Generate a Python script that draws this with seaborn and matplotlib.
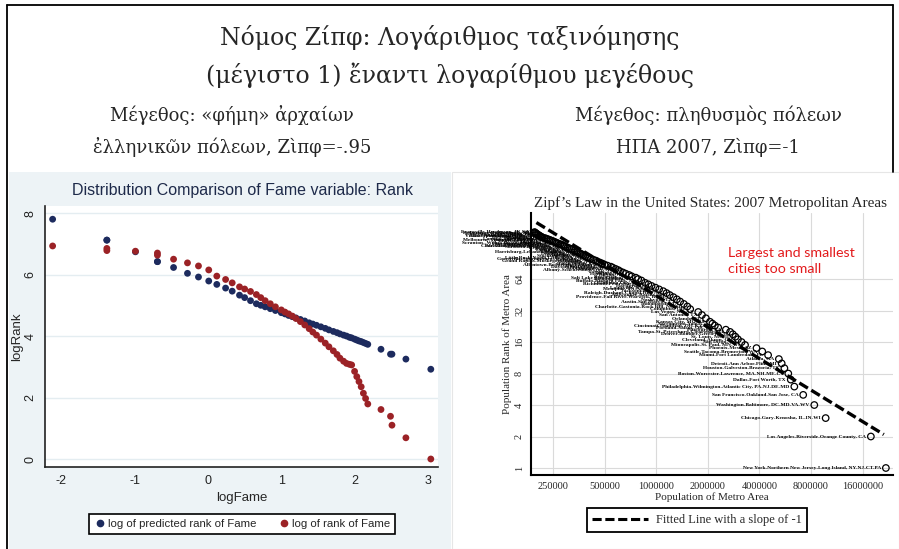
import numpy as np
import pandas as pd
import seaborn as sns
import matplotlib.pyplot as plt
from matplotlib.patches import Rectangle
from matplotlib.lines import Line2D

# ---- left panel: fame of ancient greek cities ----
log_fame = [-2.12, -1.38, -1.38, -0.99, -0.69, -0.69, -0.47, -0.28, -0.13, 0.01,
            0.12, 0.24, 0.33, 0.43, 0.50, 0.58, 0.66, 0.72, 0.78, 0.85,
            0.92, 1.00, 1.05, 1.10, 1.15, 1.20, 1.26, 1.32, 1.38, 1.43,
            1.48, 1.54, 1.60, 1.65, 1.71, 1.76, 1.80, 1.85, 1.89, 1.93,
            1.96, 2.00, 2.03, 2.06, 2.09, 2.12, 2.15, 2.18, 2.36, 2.49,
            2.51, 2.70, 3.04]
log_pred_rank = [7.80, 7.12, 7.12, 6.74, 6.42, 6.42, 6.23, 6.04, 5.92, 5.79,
                 5.68, 5.56, 5.46, 5.33, 5.25, 5.15, 5.05, 5.00, 4.95, 4.89,
                 4.83, 4.76, 4.72, 4.67, 4.63, 4.59, 4.54, 4.49, 4.43, 4.39,
                 4.35, 4.30, 4.25, 4.20, 4.15, 4.11, 4.07, 4.03, 4.00, 3.96,
                 3.94, 3.90, 3.87, 3.84, 3.82, 3.79, 3.76, 3.73, 3.57, 3.41,
                 3.41, 3.25, 2.92]
log_rank = [6.93, 6.85, 6.78, 6.76, 6.70, 6.63, 6.50, 6.38, 6.28, 6.15,
            5.95, 5.84, 5.73, 5.60, 5.53, 5.45, 5.35, 5.25, 5.15, 5.05,
            4.95, 4.85, 4.78, 4.72, 4.65, 4.57, 4.47, 4.36, 4.24, 4.13,
            4.03, 3.90, 3.77, 3.65, 3.52, 3.40, 3.28, 3.18, 3.11, 3.08,
            3.06, 2.85, 2.68, 2.52, 2.35, 2.14, 1.97, 1.79, 1.61, 1.39,
            1.10, 0.69, 0.00]
series_labels = ["log of predicted rank of Fame", "log of rank of Fame"]

# ---- right panel: US metro areas 2007 ----
metro_rank = list(range(1, 26)) + list(range(27, 60, 2)) + list(range(62, 181, 2))
metro_pop_k = [21900, 17900, 9750, 8370, 7210, 6400, 6100, 5900, 5600, 5400,
               5200, 4500, 4160, 3850, 3300, 3150, 3000, 2900, 2800, 2700,
               2550, 2300, 2200, 2130, 2060,
               1950, 1850, 1760, 1580, 1520, 1450, 1380, 1320, 1260, 1200,
               1150, 1100, 1040, 990, 940, 900, 860,
               820, 785, 760, 720, 695, 665, 640, 615, 600, 580,
               560, 545, 520, 500, 485, 470, 455, 445, 430, 415,
               405, 395, 387, 378, 370, 362, 355, 348, 341, 334,
               327, 320, 312, 304, 297, 292, 287, 282, 276, 268,
               263, 258, 253, 248, 243, 238, 233, 228, 223, 217,
               214, 211, 209, 206, 204, 202, 200, 198, 196, 195]
metro_names = [
    "New York-Northern New Jersey-Long Island, NY-NJ-CT-PA",
    "Los Angeles-Riverside-Orange County, CA",
    "Chicago-Gary-Kenosha, IL-IN-WI",
    "Washington-Baltimore, DC-MD-VA-WV",
    "San Francisco-Oakland-San Jose, CA",
    "Philadelphia-Wilmington-Atlantic City, PA-NJ-DE-MD",
    "Dallas-Fort Worth, TX",
    "Boston-Worcester-Lawrence, MA-NH-ME-CT",
    "Houston-Galveston-Brazoria, TX",
    "Detroit-Ann Arbor-Flint, MI",
    "Atlanta, GA", "Miami-Fort Lauderdale, FL", "Seattle-Tacoma-Bremerton, WA",
    "Phoenix-Mesa, AZ", "Minneapolis-St. Paul, MN-WI", "San Diego, CA",
    "Cleveland-Akron, OH", "St. Louis, MO-IL", "Denver-Boulder-Greeley, CO",
    "Tampa-St. Petersburg-Clearwater, FL", "Pittsburgh, PA", "Portland-Salem, OR-WA",
    "Cincinnati-Hamilton, OH-KY-IN", "Sacramento-Yolo, CA", "Kansas City, MO-KS",
    "Orlando, FL", "San Antonio, TX", "Las Vegas, NV-AZ", "Columbus, OH",
    "Charlotte-Gastonia-Rock Hill, NC-SC", "Indianapolis, IN", "Austin-San Marcos, TX",
    "Nashville, TN", "Providence-Fall River-Warwick, RI-MA", "Milwaukee-Racine, WI",
    "Raleigh-Durham-Chapel Hill, NC", "Jacksonville, FL", "Memphis, TN-AR-MS",
    "Louisville, KY-IN", "Hartford, CT", "Richmond-Petersburg, VA", "Oklahoma City, OK",
    "Buffalo-Niagara Falls, NY", "Birmingham, AL", "Salt Lake City-Ogden, UT",
    "Rochester, NY", "Tucson, AZ", "Honolulu, HI", "Tulsa, OK", "Fresno, CA",
    "Albany-Schenectady-Troy, NY", "Omaha, NE-IA", "Albuquerque, NM",
    "Dayton-Springfield, OH", "Bakersfield, CA", "Allentown-Bethlehem-Easton, PA",
    "Baton Rouge, LA", "El Paso, TX", "Knoxville, TN", "Grand Rapids-Muskegon-Holland, MI",
    "Columbia, SC", "Greenville-Spartanburg-Anderson, SC", "Little Rock-North Little Rock, AR",
    "Wichita, KS", "Stockton-Lodi, CA", "Syracuse, NY", "Toledo, OH", "Des Moines, IA",
    "Madison, WI", "Harrisburg-Lebanon-Carlisle, PA", "Mobile, AL", "Spokane, WA",
    "Lancaster, PA", "Boise City, ID", "Reno, NV", "Lexington, KY",
    "Sarasota-Bradenton, FL", "McAllen-Edinburg-Mission, TX", "Charleston-North Charleston, SC",
    "Colorado Springs, CO", "Fort Myers-Cape Coral, FL", "Youngstown-Warren, OH",
    "Springfield, MA", "Scranton--Wilkes-Barre--Hazleton, PA", "Jackson, MS",
    "Chattanooga, TN-GA", "Augusta-Aiken, GA-SC", "Melbourne-Titusville-Palm Bay, FL",
    "Lansing-East Lansing, MI", "Fort Wayne, IN", "Pensacola, FL", "Modesto, CA",
    "Daytona Beach, FL", "Corpus Christi, TX", "Shreveport-Bossier City, LA",
    "Visalia-Tulare-Porterville, CA", "Canton-Massillon, OH", "Salinas, CA",
    "Lakeland-Winter Haven, FL", "Huntsville, AL", "Kalamazoo-Battle Creek, MI",
    "Evansville-Henderson, IN-KY"]
fit_pop = [200000, 21300000]
fit_rank = [222, 2.09]
pop_ticks = [250000, 500000, 1000000, 2000000, 4000000, 8000000, 16000000]
rank_ticks = [1, 2, 4, 8, 16, 32, 64]

left_df = pd.DataFrame({
    "logFame": log_fame * 2,
    "logRank": log_pred_rank + log_rank,
    "series": [series_labels[0]] * len(log_fame) + [series_labels[1]] * len(log_fame),
})
metro_df = pd.DataFrame({"pop": [p * 1000 for p in metro_pop_k], "rank": metro_rank, "name": metro_names})

sns.set_style("white")
plt.rcParams['font.family'] = ['DejaVu Serif']
plt.rcParams['axes.unicode_minus'] = False

W, H = 899, 549
fig = plt.figure(figsize=(W / 100, H / 100), dpi=100)


def fx(px):
    return px / W


def fy(py):
    return 1 - py / H


def box(x0, y0, x1, y1):
    return [x0 / W, 1 - y1 / H, (x1 - x0) / W, (y1 - y0) / H]


# backgrounds and frame
fig.add_artist(Rectangle((fx(9), fy(549)), (451 - 9) / W, (549 - 172) / H,
                         transform=fig.transFigure, facecolor='#edf3f6', edgecolor='none', zorder=0))
for xs, ys in [([7, 7], [5, 549]), ([7, 893], [5, 5]), ([893, 893], [5, 172])]:
    fig.add_artist(Line2D([fx(x) for x in xs], [fy(y) for y in ys], color='black', lw=1.3,
                          transform=fig.transFigure))

# titles
fig.text(0.5, fy(37), "Νόμος Ζίπφ: Λογάριθμος ταξινόμησης", ha='center', va='center', fontsize=17)
fig.text(0.5, fy(75), "(μέγιστο 1) ἔναντι λογαρίθμου μεγέθους", ha='center', va='center', fontsize=17)
fig.text(fx(232), fy(115), "Μέγεθος: «φήμη» ἀρχαίων", ha='center', va='center', fontsize=13)
fig.text(fx(232), fy(147), "ἐλληνικῶν πόλεων, Ζὶπφ=-.95", ha='center', va='center', fontsize=13)
fig.text(fx(708), fy(115), "Μέγεθος: πληθυσμὸς πόλεων", ha='center', va='center', fontsize=13)
fig.text(fx(708), fy(147), "ΗΠΑ 2007, Ζὶπφ=-1", ha='center', va='center', fontsize=13)

# ---- left chart ----
navy = '#1d2b5e'
maroon = '#9b2226'
ax1 = fig.add_axes(box(45, 206, 438, 467))
ax1.set_facecolor('white')
sns.scatterplot(data=left_df, x="logFame", y="logRank", hue="series",
                palette=[navy, maroon], s=24, linewidth=0, legend=False, ax=ax1)
ax1.set_xlim(-2.224, 3.138)
ax1.set_ylim(-0.26, 8.23)
ax1.set_xticks([-2, -1, 0, 1, 2, 3])
ax1.set_yticks([0, 2, 4, 6, 8])
ax1.set_yticklabels(["0", "2", "4", "6", "8"], rotation=90, va='center')
ax1.yaxis.grid(True, color='#e4edf1', lw=1)
ax1.xaxis.grid(False)
for s in ['top', 'right']:
    ax1.spines[s].set_visible(False)
for s in ['left', 'bottom']:
    ax1.spines[s].set_color('#222222')
    ax1.spines[s].set_linewidth(1.2)
ax1.tick_params(direction='out', length=4, width=1, labelsize=9, colors='#222222', pad=2)
for lab in ax1.get_xticklabels() + ax1.get_yticklabels():
    lab.set_family('Liberation Sans')
ax1.set_xlabel("logFame", fontsize=9.5, family='Liberation Sans', labelpad=3)
ax1.set_ylabel("logRank", fontsize=9.5, family='Liberation Sans', labelpad=1)
fig.text(fx(243), fy(190), "Distribution Comparison of Fame variable: Rank", ha='center', va='center',
         fontsize=11.5, color='#1e2a4a', family='Liberation Sans')
h1 = [Line2D([], [], marker='o', ls='', color=navy, markersize=4.5),
      Line2D([], [], marker='o', ls='', color=maroon, markersize=4.5)]
leg1 = fig.legend(h1, series_labels, loc='center', bbox_to_anchor=(fx(242), fy(524)), ncol=2,
                  frameon=True, fancybox=False, edgecolor='black', framealpha=1,
                  prop={'family': 'Liberation Sans', 'size': 8.2}, handletextpad=0.1,
                  columnspacing=1.8, borderpad=0.4, handlelength=1.2)
leg1.get_frame().set_linewidth(1.2)

# ---- right chart ----
fig.add_artist(Rectangle((fx(452), fy(549)), (899 - 452) / W, (549 - 172) / H,
                         transform=fig.transFigure, facecolor='white', edgecolor='#e6e6e6', lw=0.8, zorder=0))
ax2 = fig.add_axes(box(531, 213, 893, 475))
ax2.set_xscale('log', base=2)
ax2.set_yscale('log', base=2)
sns.lineplot(x=fit_pop, y=fit_rank, color='black', lw=2.4, ax=ax2)
ax2.lines[0].set_linestyle((0, (3, 1.2)))
sns.scatterplot(data=metro_df, x="pop", y="rank", s=22, ax=ax2, zorder=3)
sc = ax2.collections[-1]
sc.set_facecolor('none')
sc.set_edgecolor('black')
sc.set_linewidth(0.9)
for p, r, n in zip(metro_df["pop"], metro_df["rank"], metro_df["name"]):
    ax2.annotate(n, (p, r), xytext=(-3.5, 0), textcoords='offset points', ha='right', va='center',
                 fontsize=3.9, family='Liberation Serif', fontweight='bold', color='black',
                 annotation_clip=False, zorder=4)
ax2.set_xlim(186000, 24100000)
ax2.set_ylim(0.857, 274)
ax2.set_xticks(pop_ticks)
ax2.set_xticklabels([str(t) for t in pop_ticks])
ax2.set_yticks(rank_ticks)
ax2.set_yticklabels([str(t) for t in rank_ticks], rotation=90, va='center')
ax2.minorticks_off()
ax2.grid(True, which='major', color='#dadada', lw=0.8)
for s in ['top', 'right']:
    ax2.spines[s].set_visible(False)
for s in ['left', 'bottom']:
    ax2.spines[s].set_color('black')
    ax2.spines[s].set_linewidth(1.5)
ax2.tick_params(direction='out', length=3, width=1, labelsize=7.5, pad=2)
for lab in ax2.get_xticklabels() + ax2.get_yticklabels():
    lab.set_family('Liberation Serif')
ax2.set_xlabel("Population of Metro Area", fontsize=8, family='Liberation Serif', labelpad=1)
ax2.set_ylabel("Population Rank of Metro Area", fontsize=8, family='Liberation Serif', labelpad=2)
fig.text(fx(711), fy(203), "Zipf’s Law in the United States: 2007 Metropolitan Areas", ha='center',
         va='center', fontsize=11, family='Liberation Serif')
fig.text(fx(728), fy(261), "Largest and smallest\ncities too small", ha='left', va='center',
         fontsize=10.3, color='#e31a1c', family='Lato', linespacing=1.35)
h2 = [Line2D([], [], color='black', lw=2.2, ls=(0, (3, 1.2)))]
leg2 = fig.legend(h2, ["Fitted Line with a slope of -1"], loc='center', bbox_to_anchor=(fx(697), fy(520)),
                  frameon=True, fancybox=False, edgecolor='black', framealpha=1,
                  prop={'family': 'Liberation Serif', 'size': 9}, handlelength=4.5,
                  handletextpad=0.6, borderpad=0.45)
leg2.get_frame().set_linewidth(1.3)

fig.savefig("out.png", dpi=100)
